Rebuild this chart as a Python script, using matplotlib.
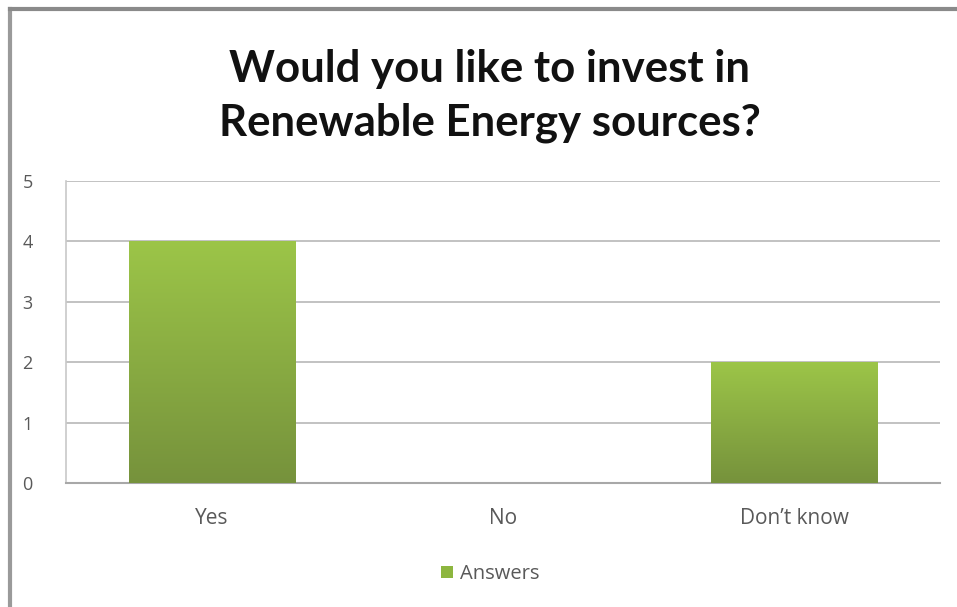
import numpy as np
import matplotlib.pyplot as plt
from matplotlib.colors import LinearSegmentedColormap

categories = ["Yes", "No", "Don\u2019t know"]
answers = [4, 0, 2]
y_ticks = [0, 1, 2, 3, 4, 5]

title = "Would you like to invest in\nRenewable Energy sources?"

plt.rcParams['font.family'] = ['Open Sans', 'DejaVu Sans']

fig = plt.figure(figsize=(9.57, 6.07), dpi=100)
ax = fig.add_axes([66 / 957, 1 - 483 / 607, (940 - 66) / 957, (483 - 181) / 607])

# gradient fill, light green at the top going darker towards the base
green = LinearSegmentedColormap.from_list("green", ["#76923c", "#9cc548"])
grad = np.linspace(0, 1, 256).reshape(-1, 1)

x = np.arange(len(categories))
bars = ax.bar(x, answers, width=0.57, color="#8db63f", zorder=2, label="Answers")
for bar in bars:
    h = bar.get_height()
    if h <= 0:
        continue
    x0 = bar.get_x()
    im = ax.imshow(grad, cmap=green, origin="lower", aspect="auto",
                   extent=[x0, x0 + bar.get_width(), 0, h], zorder=3)
    im.set_clip_path(bar)

ax.set_xlim(-0.5, len(categories) - 0.5)
ax.set_ylim(0, 5)
ax.set_yticks(y_ticks)
ax.set_xticks(x)
ax.set_xticklabels(categories)
ax.yaxis.grid(True, color="#b8b8b8", linewidth=1.2, zorder=0)
ax.set_axisbelow(True)

for side in ["top", "right"]:
    ax.spines[side].set_visible(False)
ax.spines["left"].set_color("#c8c8c8")
ax.spines["bottom"].set_color("#a8a8a8")
ax.spines["left"].set_linewidth(1.2)
ax.spines["bottom"].set_linewidth(1.5)
ax.tick_params(axis="y", length=0, pad=24, labelsize=13, labelcolor="#595959")
ax.tick_params(axis="x", length=0, pad=18, labelsize=15, labelcolor="#595959")

fig.text(0.512, 1 - 96 / 607, title, ha="center", va="center",
         fontsize=31.5, fontweight="bold", color="#111111", linespacing=1.4,
         family=["Lato", "DejaVu Sans"])

leg = fig.legend(handles=[bars], labels=["Answers"], loc="center",
                 bbox_to_anchor=(0.512, 1 - 574 / 607), frameon=False,
                 fontsize=14.5, handlelength=0.6, handleheight=0.6, handletextpad=0.35)
for t in leg.get_texts():
    t.set_color("#595959")

# grey frame on the left and top edges
fig.add_artist(plt.Line2D([10 / 957, 10 / 957], [0, 1 - 9 / 607],
                          transform=fig.transFigure, color="#9a9a9a", linewidth=3))
fig.add_artist(plt.Line2D([10 / 957, 1], [1 - 9 / 607, 1 - 9 / 607],
                          transform=fig.transFigure, color="#8a8a8a", linewidth=3))

fig.savefig("out.png", dpi=100)
